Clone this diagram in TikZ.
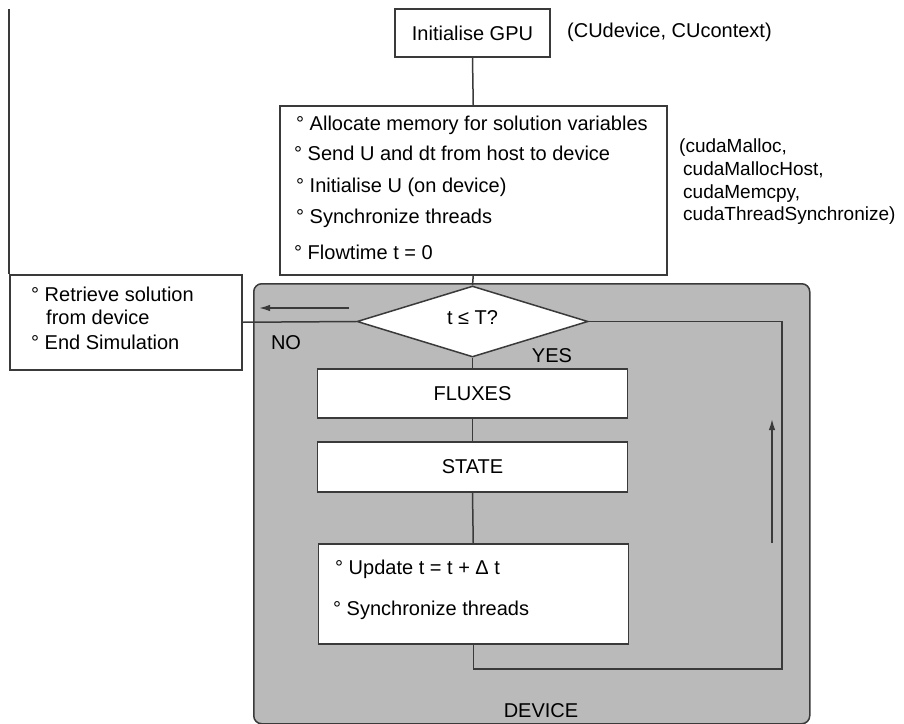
\documentclass[tikz,border=0pt]{standalone}
\usepackage{fontspec}
\setmainfont{Liberation Sans}
\usetikzlibrary{shapes.geometric,arrows.meta}
\definecolor{lin}{HTML}{3A3A3A}
\definecolor{devfill}{HTML}{BABABA}
\newcommand{\fs}{\fontsize{20}{24}\selectfont}
\tikzset{
  box/.style={draw=lin, line width=1.5pt, fill=white, rectangle, inner sep=0pt, font=\fs},
  txt/.style={inner sep=0pt, font=\fs, text=black},
  conn/.style={draw=lin, line width=1.5pt},
  arr/.style={draw=lin, line width=1.5pt, -{Latex[length=11pt,width=6.5pt]}}
}
\begin{document}
\begin{tikzpicture}[x=1pt,y=-1pt]
\useasboundingbox (0,0) rectangle (904,723);
% device region
\node[draw=lin, line width=1.5pt, fill=devfill, rounded corners=8pt, rectangle, inner sep=0pt,
      minimum width=556pt, minimum height=440pt, anchor=north west] (dev) at (253,283) {};
\node[txt] (devlbl) at (541,711) {DEVICE};

% boxes
\node[box, minimum width=155pt, minimum height=48pt] (gpu) at (472.5,33) {Initialise GPU};
\node[txt, anchor=west] (gpun) at (567,32) {(CUdevice, CUcontext)};

\node[box, minimum width=387pt, minimum height=169pt, anchor=north west] (alloc) at (279,105) {};
\node[txt, anchor=west] (a1) at (296,125) {° Allocate memory for solution variables};
\node[txt, anchor=west] (a2) at (294,153) {° Send U and dt from host to device};
\node[txt, anchor=west] (a3) at (296,187) {° Initialise U (on device)};
\node[txt, anchor=west] (a4) at (296,218) {° Synchronize threads};
\node[txt, anchor=west] (a5) at (294,252) {° Flowtime t = 0};
\node[txt, anchor=north west, align=left, font=\fontsize{19}{22.6}\selectfont] (cuda) at (679,139)
  {(cudaMalloc,\\\hspace*{4pt}cudaMallocHost,\\\hspace*{4pt}cudaMemcpy,\\\hspace*{4pt}cudaThreadSynchronize)};

\node[draw=lin, line width=1.5pt, fill=white, diamond, inner sep=0pt,
      minimum width=231pt, minimum height=71pt] (dia) at (472.5,321.5) {};
\node[txt] (diat) at (472.5,318) {t ≤ T?};

\node[box, minimum width=232pt, minimum height=95pt, anchor=north west] (retr) at (9,274) {};
\node[txt, anchor=west] (r1) at (31,294) {° Retrieve solution};
\node[txt, anchor=west] (r2) at (46,317) {from device};
\node[txt, anchor=west] (r3) at (31,342) {° End Simulation};

\node[txt] (no) at (286,343) {NO};
\node[txt] (yes) at (552,356) {YES};

\node[box, minimum width=310pt, minimum height=49pt] (flux) at (472.5,393.5) {FLUXES};
\node[box, minimum width=310pt, minimum height=50pt] (state) at (472.5,467) {STATE};
\node[box, minimum width=310pt, minimum height=100pt, anchor=north west] (upd) at (317.5,543) {};
\node[txt, anchor=west] (u1) at (335,569) {° Update t = t + Δ t};
\node[txt, anchor=west] (u2) at (333,610) {° Synchronize threads};

% connectors
\coordinate (topl) at (9,9);
\coordinate (loopc) at (782,669);
\coordinate (al1) at (349,308);
\coordinate (al2) at (259,308);
\coordinate (au1) at (772,543);
\coordinate (au2) at (772,419);

\draw[conn] (gpu.south) -- (alloc.north);
\draw[conn] (alloc.south) -- (dia.north);
\draw[conn] (dia.south) -- (flux.north);
\draw[conn] (flux.south) -- (state.north);
\draw[conn] (state.south) -- (upd.north);
\draw[conn] (upd.south) |- (loopc) |- (dia.east);
\draw[conn] (dia.west) -- (retr.east);
\draw[conn] (topl) -- (retr.north west);
\draw[arr] (al1) -- (al2);
\draw[arr] (au1) -- (au2);
\end{tikzpicture}
\end{document}
